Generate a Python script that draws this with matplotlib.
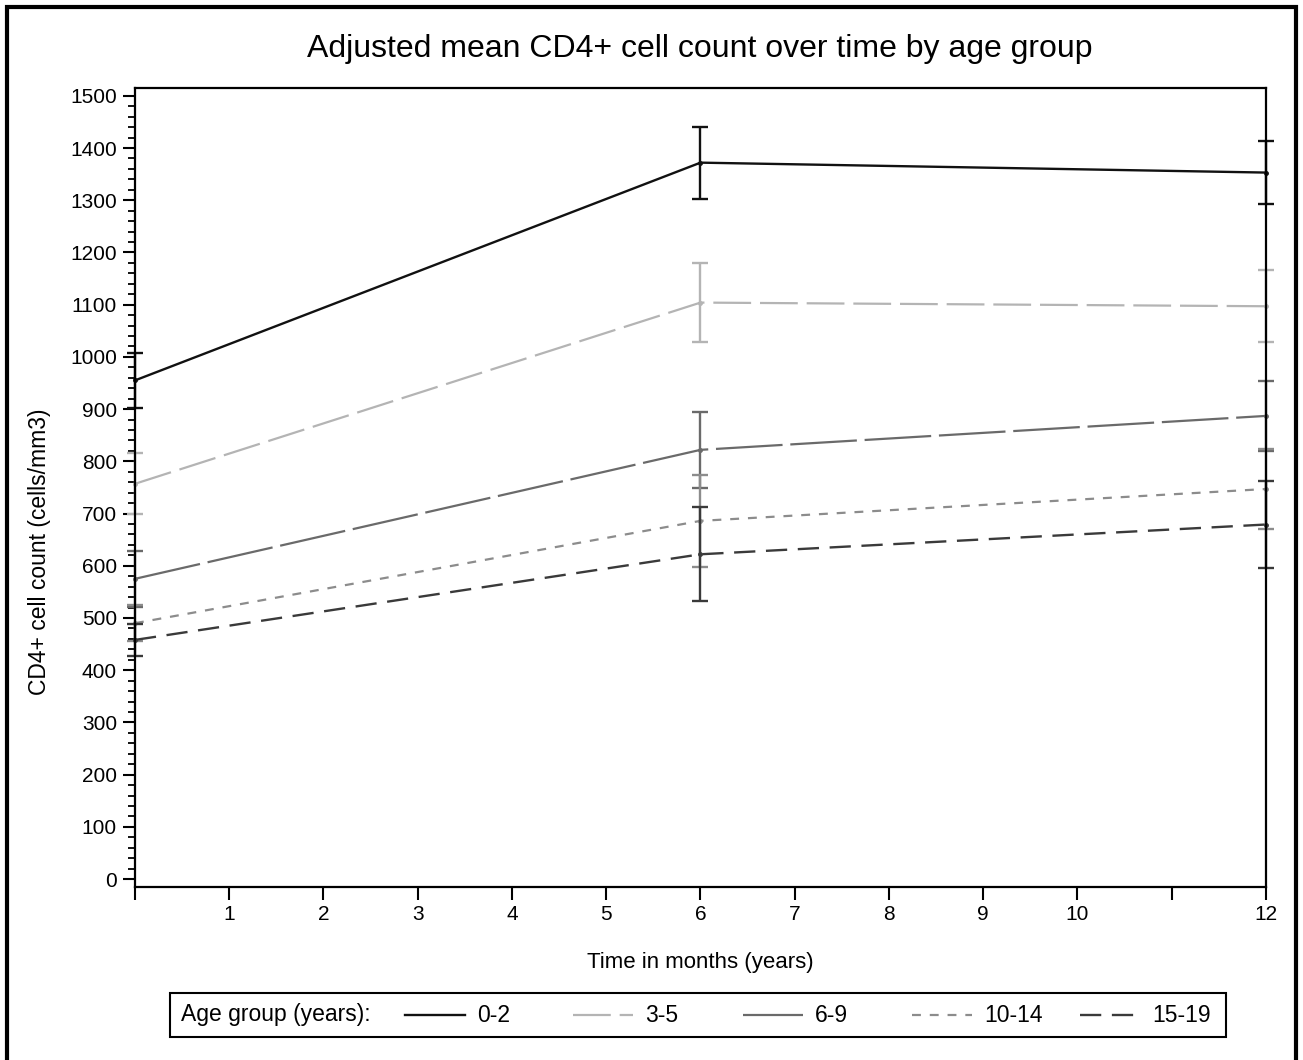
import matplotlib
matplotlib.use('Agg')
import matplotlib.pyplot as plt
from matplotlib.lines import Line2D
from matplotlib.patches import Rectangle
from matplotlib.ticker import MultipleLocator

plt.rcParams['font.family'] = ['Liberation Sans', 'DejaVu Sans']

months = [0, 6, 12]
groups = ['0-2', '3-5', '6-9', '10-14', '15-19']
mean_02 = [955, 1372, 1353]
mean_35 = [757, 1104, 1097]
mean_69 = [575, 822, 887]
mean_1014 = [490, 686, 747]
mean_1519 = [458, 622, 679]
err_02 = [52, 69, 60]
err_35 = [58, 75, 69]
err_69 = [54, 73, 67]
err_1014 = [35, 88, 77]
err_1519 = [30, 90, 83]

means = [mean_02, mean_35, mean_69, mean_1014, mean_1519]
errs = [err_02, err_35, err_69, err_1014, err_1519]
colors = ['#111111', '#b4b4b4', '#6a6a6a', '#8c8c8c', '#3a3a3a']
dashes = [(None, None), (17, 4), (30, 3.5), (4, 4), (9, 4.5)]
widths = [1.7, 1.6, 1.6, 1.6, 1.7]

fig = plt.figure(figsize=(13.03, 10.60), dpi=100)
ax = fig.add_axes([0.1036, 0.1633, 0.868, 0.7537])

for m, e, c, d, w in zip(means, errs, colors, dashes, widths):
    ln, = ax.plot(months, m, color=c, lw=w, clip_on=False)
    if d[0] is not None:
        ln.set_dashes(d)
    ax.errorbar(months, m, yerr=e, fmt='none', ecolor=c, elinewidth=1.7,
                capsize=5.5, capthick=1.7, clip_on=False)
    ax.plot(months, m, 'o', color=c, ms=2.5, clip_on=False)

ax.set_xlim(0, 12)
ax.set_ylim(-15, 1515)
ax.set_xticks(range(13))
ax.set_xticklabels(['' if t in (0, 11) else str(t) for t in range(13)])
ax.set_yticks(range(0, 1501, 100))
ax.yaxis.set_minor_locator(MultipleLocator(20))
ax.tick_params(axis='both', which='major', direction='out', length=9, width=1.5,
               labelsize=15, pad=4)
ax.tick_params(axis='y', which='minor', direction='out', length=5, width=1.3)
for s in ax.spines.values():
    s.set_linewidth(1.6)

ax.set_xlabel('Time in months (years)', fontsize=16, labelpad=20)
ax.set_ylabel('CD4+ cell count (cells/mm3)', fontsize=16.5)
ax.yaxis.set_label_coords(-0.074, 0.42)
fig.suptitle('Adjusted mean CD4+ cell count over time by age group',
             fontsize=23, x=0.537, y=0.968)

# outer border
fig.add_artist(Rectangle((0.0054, -0.05), 0.989, 1.0434, transform=fig.transFigure,
                         fill=False, lw=3, ec='black'))

# legend box
fig.add_artist(Rectangle((170 / 1303, 1 - 1037 / 1060), 1056 / 1303, 44 / 1060,
                         transform=fig.transFigure, fill=False, lw=1.5, ec='black'))
ly = 1 - 1015 / 1060
fig.text(181 / 1303, ly, 'Age group (years):', fontsize=16.5, va='center', ha='left')
starts = [405, 573, 743, 912, 1080]
for x0, g, c, d, w in zip(starts, groups, colors, dashes, widths):
    ln = Line2D([x0 / 1303, (x0 + 60) / 1303], [ly, ly], transform=fig.transFigure,
                color=c, lw=w)
    if d[0] is not None:
        ln.set_dashes(d)
    fig.add_artist(ln)
    fig.text((x0 + 72) / 1303, ly, g, fontsize=16.5, va='center', ha='left')

fig.savefig('out.png', dpi=100)
